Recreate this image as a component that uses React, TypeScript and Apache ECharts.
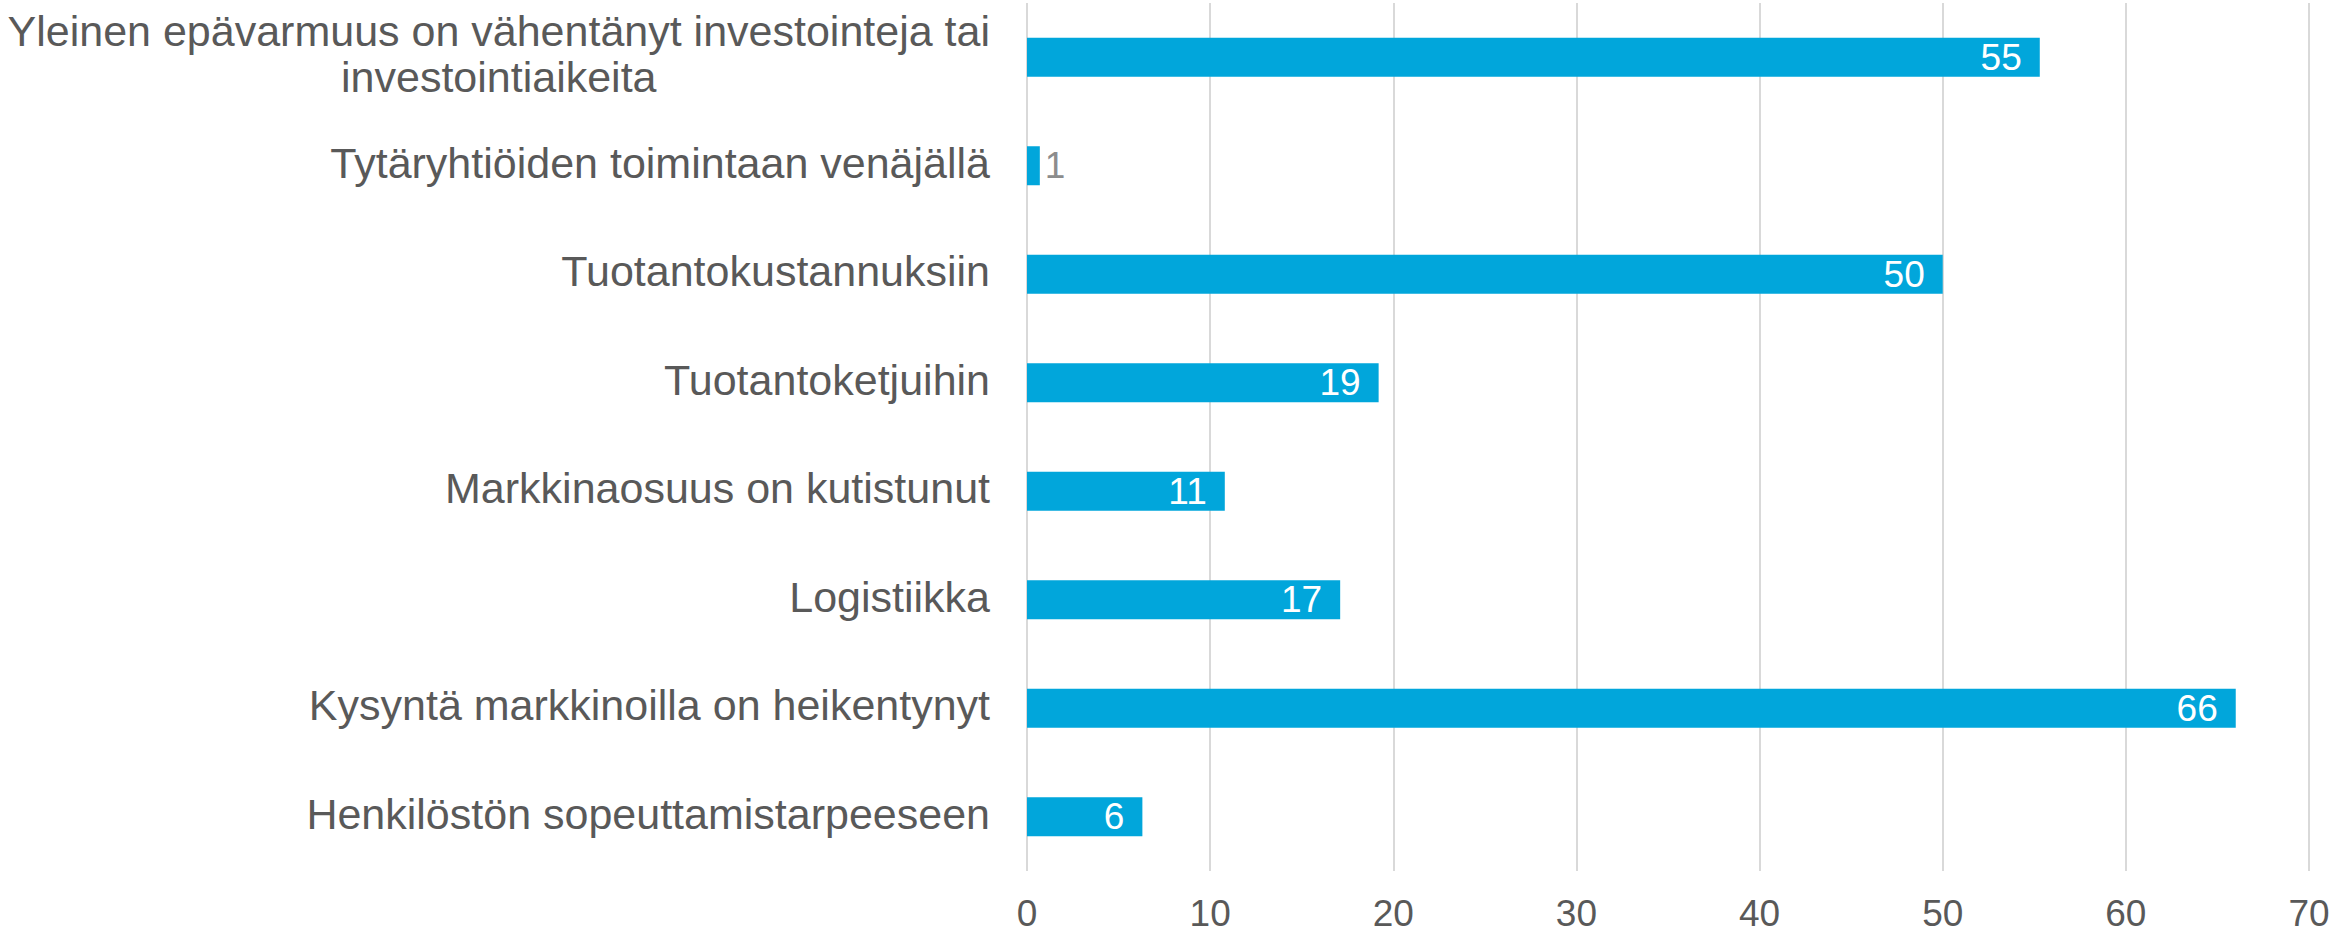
import React, { useEffect, useRef } from "react";
import * as echarts from "echarts";

const categories: string[] = [
  "Yleinen epävarmuus on vähentänyt investointeja tai\ninvestointiaikeita",
  "Tytäryhtiöiden toimintaan venäjällä",
  "Tuotantokustannuksiin",
  "Tuotantoketjuihin",
  "Markkinaosuus on kutistunut",
  "Logistiikka",
  "Kysyntä markkinoilla on heikentynyt",
  "Henkilöstön sopeuttamistarpeeseen",
];

const values: number[] = [55.3, 0.7, 50.0, 19.2, 10.8, 17.1, 66.0, 6.3];

const xTicks = { min: 0, max: 70, interval: 10 };

const FONT = "Arial, 'Liberation Sans', Helvetica, sans-serif";
const BAR = "#01A6DB";
const TEXT = "#595959";

export default function App() {
  const ref = useRef<HTMLDivElement>(null);

  useEffect(() => {
    if (!ref.current) return;
    const chart = echarts.init(ref.current, undefined, { renderer: "svg" });

    const data = values.map((v) =>
      v < 3
        ? {
            value: v,
            label: { position: "right", color: "#8c8c8c", distance: 5 },
          }
        : { value: v }
    );

    chart.setOption({
      animation: false,
      backgroundColor: "#ffffff",
      textStyle: { fontFamily: FONT },
      grid: { left: 1027, right: 42, top: 3, bottom: 62, containLabel: false },
      xAxis: {
        type: "value",
        min: xTicks.min,
        max: xTicks.max,
        interval: xTicks.interval,
        axisLine: { show: false },
        axisTick: { show: false },
        splitLine: { show: true, lineStyle: { color: "#d9d9d9", width: 2 } },
        axisLabel: { fontSize: 37, color: TEXT, margin: 24, fontFamily: FONT },
      },
      yAxis: {
        type: "category",
        inverse: true,
        data: categories,
        axisLine: { show: false },
        axisTick: { show: false },
        splitLine: { show: false },
        axisLabel: {
          margin: 37,
          align: "right",
          padding: [0, 0, 6, 0],
          fontFamily: FONT,
          formatter: (v: string) =>
            v
              .split("\n")
              .map((l) => `{c|${l}}`)
              .join("\n"),
          rich: {
            c: {
              align: "center",
              fontSize: 43,
              lineHeight: 46,
              color: TEXT,
              fontFamily: FONT,
            },
          },
        },
      },
      series: [
        {
          type: "bar",
          data,
          barWidth: 39,
          itemStyle: { color: BAR },
          label: {
            show: true,
            position: "insideRight",
            distance: 18,
            color: "#ffffff",
            fontSize: 37,
            fontFamily: FONT,
            formatter: (p: any) => String(Math.round(p.value)),
          },
        },
      ],
    });

    return () => chart.dispose();
  }, []);

  return (
    <div
      ref={ref}
      style={{ position: "fixed", left: 0, top: 0, width: 2351, height: 933 }}
    />
  );
}
